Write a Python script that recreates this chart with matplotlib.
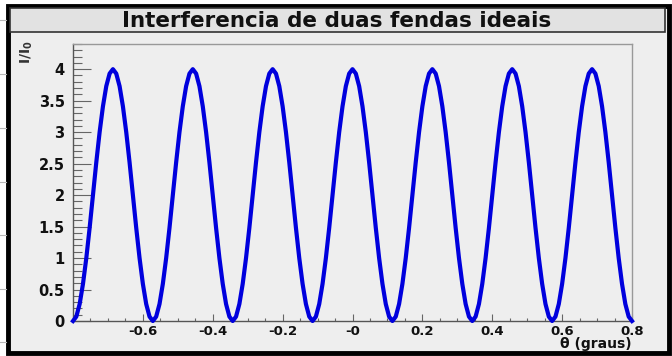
import numpy as np
import matplotlib
matplotlib.use('Agg')
import matplotlib.pyplot as plt
from matplotlib.patches import Rectangle
from matplotlib.ticker import MultipleLocator, FixedLocator

# I/I0, 24 samples per fringe, zero at both edges
intensity = [
    0.00, 0.07, 0.27, 0.59, 1.00, 1.48, 2.00, 2.52, 3.00, 3.41, 3.73, 3.93,
    4.00, 3.93, 3.73, 3.41, 3.00, 2.52, 2.00, 1.48, 1.00, 0.59, 0.27, 0.07,
    0.00, 0.07, 0.27, 0.59, 1.00, 1.48, 2.00, 2.52, 3.00, 3.41, 3.73, 3.93,
    4.00, 3.93, 3.73, 3.41, 3.00, 2.52, 2.00, 1.48, 1.00, 0.59, 0.27, 0.07,
    0.00, 0.07, 0.27, 0.59, 1.00, 1.48, 2.00, 2.52, 3.00, 3.41, 3.73, 3.93,
    4.00, 3.93, 3.73, 3.41, 3.00, 2.52, 2.00, 1.48, 1.00, 0.59, 0.27, 0.07,
    0.00, 0.07, 0.27, 0.59, 1.00, 1.48, 2.00, 2.52, 3.00, 3.41, 3.73, 3.93,
    4.00, 3.93, 3.73, 3.41, 3.00, 2.52, 2.00, 1.48, 1.00, 0.59, 0.27, 0.07,
    0.00, 0.07, 0.27, 0.59, 1.00, 1.48, 2.00, 2.52, 3.00, 3.41, 3.73, 3.93,
    4.00, 3.93, 3.73, 3.41, 3.00, 2.52, 2.00, 1.48, 1.00, 0.59, 0.27, 0.07,
    0.00, 0.07, 0.27, 0.59, 1.00, 1.48, 2.00, 2.52, 3.00, 3.41, 3.73, 3.93,
    4.00, 3.93, 3.73, 3.41, 3.00, 2.52, 2.00, 1.48, 1.00, 0.59, 0.27, 0.07,
    0.00, 0.07, 0.27, 0.59, 1.00, 1.48, 2.00, 2.52, 3.00, 3.41, 3.73, 3.93,
    4.00, 3.93, 3.73, 3.41, 3.00, 2.52, 2.00, 1.48, 1.00, 0.59, 0.27, 0.07,
    0.00,
]
theta_min = -0.8
theta_max = 0.8
theta = np.linspace(theta_min, theta_max, len(intensity))

xticks = [-0.6, -0.4, -0.2, 0.0, 0.2, 0.4, 0.6, 0.8]
xticklabels = ['-0.6', '-0.4', '-0.2', '-0', '0.2', '0.4', '0.6', '0.8']
yticks = [0, 0.5, 1, 1.5, 2, 2.5, 3, 3.5, 4]
yticklabels = ['0', '0.5', '1', '1.5', '2', '2.5', '3', '3.5', '4']

title = 'Interferencia de duas fendas ideais'
xlabel = '\u03b8 (graus)'
ylabel = 'I/I$_0$'

W, H = 672, 356
bg = '#eeeeee'

plt.rcParams['font.family'] = ['DejaVu Sans']
plt.rcParams['font.weight'] = 'bold'
plt.rcParams['mathtext.default'] = 'bf'

fig = plt.figure(figsize=(W / 100, H / 100), dpi=100)
fig.patch.set_facecolor('white')

def fx(px):
    return px / W

def fy(py):
    return 1 - py / H

# faint lines left of the canvas
for yy in [20, 74, 128, 182, 235, 289, 342]:
    fig.add_artist(plt.Line2D([0, fx(6)], [fy(yy), fy(yy)], color='#b8b8b8', lw=0.8))

# canvas with thick black border
fig.add_artist(Rectangle((fx(7.5), fy(353)), fx(661), fy(6) - fy(353), transform=fig.transFigure,
                         facecolor=bg, edgecolor='black', lw=3.5, zorder=0))

# title box
fig.add_artist(Rectangle((fx(10), fy(32)), fx(655), fy(8) - fy(32), transform=fig.transFigure,
                         facecolor='#e2e2e2', edgecolor='#333333', lw=1.2, zorder=1))
fig.text(fx(337), fy(21), title, ha='center', va='center', fontsize=15.5, fontweight='bold', color='#111111')

ax = fig.add_axes([fx(73), fy(321), fx(632 - 73), fy(44) - fy(321)])
ax.set_facecolor(bg)
ax.plot(theta, intensity, color='#0000dd', lw=3.0, solid_joinstyle='round', clip_on=False, zorder=3)

ax.set_xlim(theta_min, theta_max)
ax.set_ylim(0, 4.4)
ax.xaxis.set_major_locator(FixedLocator(xticks))
ax.set_xticklabels(xticklabels)
ax.xaxis.set_minor_locator(MultipleLocator(0.05))
ax.yaxis.set_major_locator(FixedLocator(yticks))
ax.set_yticklabels(yticklabels)
ax.yaxis.set_minor_locator(MultipleLocator(0.1))

ax.tick_params(axis='y', which='major', direction='in', length=13, width=0.8, color='#666666',
               labelsize=10.5, pad=6)
ax.tick_params(axis='y', which='minor', direction='in', length=6.5, width=0.8, color='#666666')
ax.tick_params(axis='x', which='major', direction='in', length=5, width=0.8, color='#666666',
               labelsize=9.5, pad=3)
ax.tick_params(axis='x', which='minor', direction='in', length=2.5, width=0.8, color='#666666')
for lab in ax.get_xticklabels() + ax.get_yticklabels():
    lab.set_fontweight('bold')
    lab.set_color('#111111')

for side in ['left', 'bottom']:
    ax.spines[side].set_color('#555555')
    ax.spines[side].set_linewidth(1.0)
for side in ['top', 'right']:
    ax.spines[side].set_color('#999999')
    ax.spines[side].set_linewidth(1.0)

fig.text(fx(632), fy(351), xlabel, ha='right', va='bottom', fontsize=10, fontweight='bold', color='#111111')
fig.text(fx(27), fy(40), ylabel, ha='center', va='top', rotation=90, fontsize=10, fontweight='bold', color='#333333')

fig.savefig('out.png', dpi=100)
